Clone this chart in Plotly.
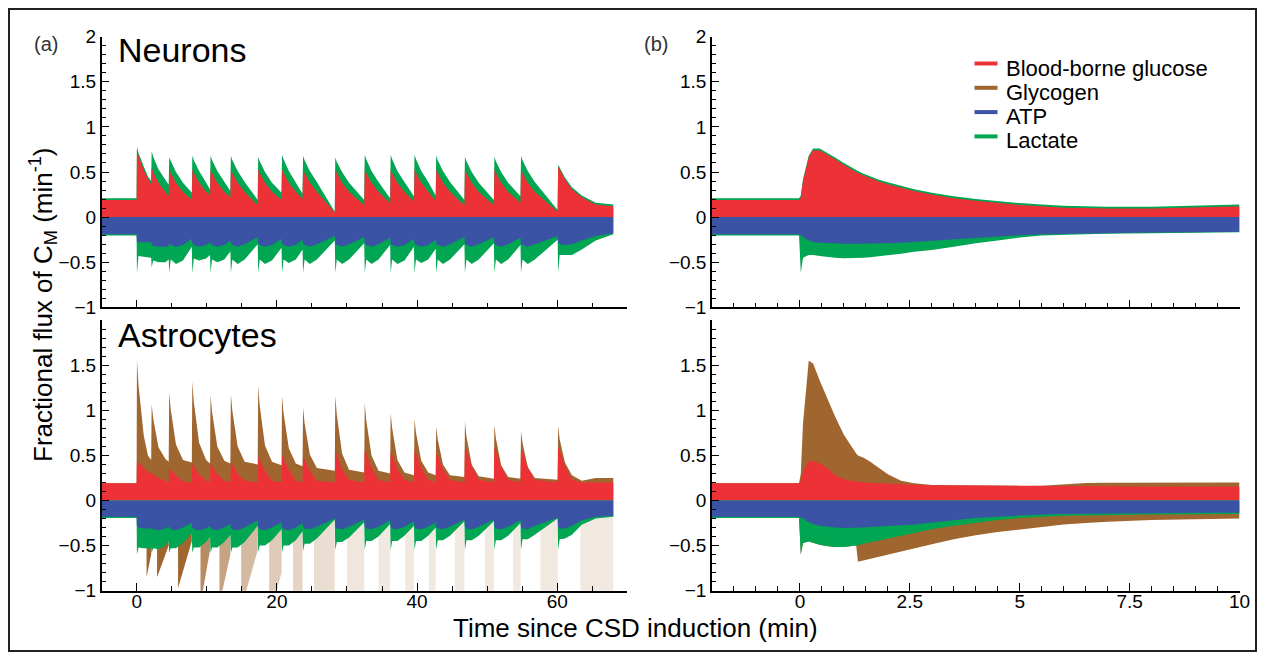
import plotly.graph_objects as go

W, H = 1264, 655
FONT = "Liberation Sans, Arial, Helvetica, sans-serif"

RED = "#ED3237"
BROWN = "#A0662F"
BLUE = "#3A53A4"
GREEN = "#00A651"

# ------------------------------------------------------------------
# DATA
# ------------------------------------------------------------------
# Panel (a): sample times (min); one row per CSD cycle
T_A_ROWS = [
    [-5.0, -0.02],
    [0.03, 0.25, 1.0, 1.6, 2.06],
    [2.13, 2.35, 3.1, 4.1, 4.56],
    [4.63, 4.85, 5.6, 6.6, 7.86],
    [7.93, 8.15, 8.9, 9.9, 10.46],
    [10.53, 10.75, 11.5, 12.5, 13.36],
    [13.43, 13.65, 14.4, 15.4, 17.26],
    [17.33, 17.55, 18.3, 19.3, 20.66],
    [20.73, 20.95, 21.7, 22.7, 23.66],
    [23.73, 23.95, 24.7, 25.7, 28.26],
    [28.33, 28.55, 29.3, 30.3, 32.46],
    [32.53, 32.75, 33.5, 34.5, 36.16],
    [36.23, 36.45, 37.2, 38.2, 39.56],
    [39.63, 39.85, 40.6, 41.6, 42.66],
    [42.73, 42.95, 43.7, 44.7, 46.76],
    [46.83, 47.05, 47.8, 48.8, 50.96],
    [51.03, 51.25, 52.0, 53.0, 54.76],
    [54.83, 55.05, 55.8, 56.8, 60.06],
    [60.13, 60.35, 61.1, 62.1, 63.5, 65.5, 68.0],
]

# Neurons, stacked boundaries (min^-1)
N_GLUCOSE_ROWS = [  # top of blood-borne glucose band
    [0.19, 0.19],
    [0.76, 0.68, 0.52, 0.42, 0.36],
    [0.55, 0.50, 0.38, 0.27, 0.23],
    [0.53, 0.49, 0.38, 0.28, 0.19],
    [0.53, 0.49, 0.38, 0.28, 0.24],
    [0.53, 0.49, 0.38, 0.28, 0.22],
    [0.53, 0.49, 0.38, 0.28, 0.13],
    [0.53, 0.49, 0.38, 0.28, 0.19],
    [0.53, 0.49, 0.38, 0.28, 0.20],
    [0.53, 0.49, 0.38, 0.28, 0.05],
    [0.53, 0.49, 0.38, 0.28, 0.13],
    [0.53, 0.49, 0.38, 0.28, 0.15],
    [0.53, 0.49, 0.38, 0.28, 0.17],
    [0.53, 0.49, 0.38, 0.28, 0.18],
    [0.53, 0.49, 0.38, 0.28, 0.13],
    [0.53, 0.49, 0.38, 0.28, 0.13],
    [0.53, 0.49, 0.38, 0.28, 0.16],
    [0.53, 0.49, 0.38, 0.28, 0.06],
    [0.56, 0.53, 0.42, 0.31, 0.22, 0.14, 0.12],
]
N_LACTATE_IN_ROWS = [  # top of lactate band (glucose + lactate)
    [0.21, 0.21],
    [0.78, 0.71, 0.56, 0.45, 0.40],
    [0.73, 0.67, 0.53, 0.41, 0.36],
    [0.66, 0.62, 0.50, 0.38, 0.27],
    [0.68, 0.63, 0.51, 0.39, 0.31],
    [0.68, 0.63, 0.51, 0.39, 0.29],
    [0.68, 0.63, 0.51, 0.39, 0.19],
    [0.67, 0.62, 0.50, 0.38, 0.27],
    [0.69, 0.64, 0.51, 0.39, 0.26],
    [0.68, 0.63, 0.51, 0.39, 0.06],
    [0.66, 0.61, 0.50, 0.38, 0.19],
    [0.69, 0.64, 0.51, 0.39, 0.21],
    [0.69, 0.64, 0.51, 0.39, 0.23],
    [0.69, 0.64, 0.51, 0.39, 0.24],
    [0.68, 0.63, 0.51, 0.39, 0.19],
    [0.67, 0.62, 0.50, 0.38, 0.19],
    [0.67, 0.62, 0.50, 0.38, 0.23],
    [0.68, 0.63, 0.51, 0.39, 0.08],
    [0.58, 0.55, 0.44, 0.33, 0.24, 0.16, 0.14],
]
N_ATP_ROWS = [  # bottom of ATP band
    [-0.19, -0.19],
    [-0.27, -0.28, -0.28, -0.28, -0.28],
    [-0.30, -0.32, -0.33, -0.33, -0.32],
    [-0.29, -0.31, -0.33, -0.31, -0.24],
    [-0.29, -0.31, -0.33, -0.31, -0.28],
    [-0.29, -0.31, -0.33, -0.31, -0.26],
    [-0.29, -0.31, -0.33, -0.30, -0.22],
    [-0.29, -0.31, -0.33, -0.31, -0.24],
    [-0.29, -0.31, -0.33, -0.31, -0.25],
    [-0.29, -0.31, -0.33, -0.30, -0.21],
    [-0.29, -0.31, -0.33, -0.30, -0.22],
    [-0.29, -0.31, -0.33, -0.30, -0.23],
    [-0.29, -0.31, -0.33, -0.31, -0.24],
    [-0.29, -0.31, -0.33, -0.31, -0.25],
    [-0.29, -0.31, -0.33, -0.30, -0.22],
    [-0.29, -0.31, -0.33, -0.30, -0.22],
    [-0.29, -0.31, -0.33, -0.30, -0.23],
    [-0.29, -0.31, -0.33, -0.30, -0.21],
    [-0.28, -0.30, -0.31, -0.30, -0.26, -0.21, -0.18],
]
N_LACTATE_OUT_ROWS = [  # bottom of lactate (efflux) band
    [-0.205, -0.205],
    [-0.62, -0.43, -0.44, -0.45, -0.45],
    [-0.56, -0.48, -0.50, -0.50, -0.47],
    [-0.62, -0.47, -0.52, -0.48, -0.33],
    [-0.62, -0.46, -0.48, -0.46, -0.42],
    [-0.62, -0.47, -0.50, -0.47, -0.38],
    [-0.62, -0.47, -0.52, -0.47, -0.30],
    [-0.62, -0.47, -0.52, -0.48, -0.34],
    [-0.62, -0.47, -0.51, -0.47, -0.36],
    [-0.62, -0.47, -0.52, -0.47, -0.26],
    [-0.62, -0.47, -0.52, -0.47, -0.29],
    [-0.62, -0.47, -0.52, -0.47, -0.31],
    [-0.62, -0.47, -0.52, -0.48, -0.33],
    [-0.62, -0.47, -0.51, -0.47, -0.35],
    [-0.62, -0.47, -0.52, -0.47, -0.30],
    [-0.62, -0.47, -0.52, -0.47, -0.29],
    [-0.62, -0.47, -0.52, -0.47, -0.31],
    [-0.62, -0.47, -0.52, -0.47, -0.25],
    [-0.62, -0.42, -0.42, -0.42, -0.36, -0.26, -0.19],
]

# Astrocytes, stacked boundaries
A_GLUCOSE_ROWS = [
    [0.19, 0.19],
    [0.44, 0.42, 0.36, 0.32, 0.30],
    [0.31, 0.29, 0.25, 0.21, 0.20],
    [0.37, 0.34, 0.28, 0.21, 0.20],
    [0.41, 0.38, 0.29, 0.22, 0.20],
    [0.41, 0.38, 0.29, 0.22, 0.20],
    [0.43, 0.40, 0.30, 0.22, 0.20],
    [0.48, 0.45, 0.33, 0.22, 0.20],
    [0.50, 0.47, 0.34, 0.22, 0.20],
    [0.49, 0.46, 0.33, 0.22, 0.20],
    [0.54, 0.51, 0.35, 0.23, 0.20],
    [0.56, 0.53, 0.36, 0.23, 0.20],
    [0.54, 0.51, 0.35, 0.23, 0.20],
    [0.56, 0.53, 0.36, 0.23, 0.20],
    [0.54, 0.51, 0.35, 0.23, 0.20],
    [0.59, 0.56, 0.38, 0.23, 0.20],
    [0.59, 0.56, 0.38, 0.23, 0.20],
    [0.57, 0.54, 0.37, 0.23, 0.20],
    [0.59, 0.56, 0.38, 0.23, 0.20, 0.20, 0.20],
]
A_GLYCOGEN_IN_ROWS = [  # top of glycogen band (glucose + glycogen)
    [0.19, 0.19],
    [1.56, 1.28, 0.72, 0.50, 0.45],
    [1.07, 0.91, 0.59, 0.46, 0.43],
    [1.20, 1.01, 0.62, 0.45, 0.42],
    [1.32, 1.09, 0.64, 0.45, 0.41],
    [1.17, 0.98, 0.60, 0.44, 0.41],
    [1.18, 0.99, 0.60, 0.43, 0.40],
    [1.27, 1.05, 0.61, 0.43, 0.39],
    [1.16, 0.97, 0.58, 0.41, 0.38],
    [1.03, 0.86, 0.51, 0.36, 0.33],
    [1.16, 0.95, 0.52, 0.34, 0.31],
    [1.08, 0.89, 0.50, 0.33, 0.30],
    [0.97, 0.80, 0.45, 0.31, 0.28],
    [0.91, 0.75, 0.44, 0.31, 0.28],
    [0.82, 0.68, 0.40, 0.28, 0.26],
    [0.87, 0.71, 0.40, 0.27, 0.24],
    [0.84, 0.69, 0.39, 0.26, 0.24],
    [0.77, 0.64, 0.37, 0.25, 0.23],
    [0.83, 0.68, 0.42, 0.28, 0.22, 0.25, 0.25],
]
A_ATP_ROWS = [
    [-0.18, -0.18],
    [-0.28, -0.30, -0.31, -0.31, -0.31],
    [-0.31, -0.32, -0.33, -0.31, -0.29],
    [-0.30, -0.32, -0.33, -0.30, -0.25],
    [-0.30, -0.32, -0.33, -0.31, -0.28],
    [-0.30, -0.32, -0.33, -0.30, -0.26],
    [-0.30, -0.32, -0.33, -0.30, -0.22],
    [-0.30, -0.32, -0.33, -0.30, -0.24],
    [-0.30, -0.32, -0.33, -0.30, -0.25],
    [-0.29, -0.31, -0.32, -0.29, -0.20],
    [-0.29, -0.31, -0.32, -0.29, -0.21],
    [-0.29, -0.31, -0.32, -0.29, -0.22],
    [-0.29, -0.31, -0.32, -0.29, -0.23],
    [-0.29, -0.31, -0.32, -0.29, -0.24],
    [-0.29, -0.31, -0.32, -0.29, -0.21],
    [-0.29, -0.31, -0.32, -0.29, -0.21],
    [-0.29, -0.31, -0.32, -0.29, -0.22],
    [-0.29, -0.31, -0.32, -0.28, -0.19],
    [-0.29, -0.31, -0.31, -0.28, -0.22, -0.18, -0.17],
]
A_LACTATE_OUT_ROWS = [
    [-0.195, -0.195],
    [-0.60, -0.52, -0.53, -0.53, -0.53],
    [-0.58, -0.53, -0.54, -0.50, -0.45],
    [-0.58, -0.53, -0.53, -0.47, -0.36],
    [-0.58, -0.52, -0.52, -0.46, -0.40],
    [-0.58, -0.52, -0.52, -0.46, -0.38],
    [-0.58, -0.52, -0.52, -0.46, -0.28],
    [-0.57, -0.50, -0.50, -0.44, -0.32],
    [-0.57, -0.50, -0.50, -0.44, -0.34],
    [-0.56, -0.48, -0.48, -0.42, -0.21],
    [-0.55, -0.46, -0.46, -0.41, -0.24],
    [-0.55, -0.45, -0.45, -0.40, -0.26],
    [-0.55, -0.45, -0.45, -0.39, -0.28],
    [-0.55, -0.45, -0.45, -0.39, -0.30],
    [-0.55, -0.44, -0.44, -0.39, -0.23],
    [-0.55, -0.44, -0.44, -0.39, -0.23],
    [-0.55, -0.44, -0.44, -0.39, -0.25],
    [-0.55, -0.43, -0.43, -0.38, -0.20],
    [-0.55, -0.43, -0.42, -0.38, -0.27, -0.20, -0.18],
]
# Astrocytes: glycogen synthesis (negative) episodes late in each cycle
GLY_OUT_T0 = [1.4, 2.9, 5.9, 9.1, 11.8, 14.9, 18.9, 22.3, 25.3, 30.0,
              34.5, 38.3, 41.7, 45.4, 49.7, 53.7, 57.6, 63.3]
GLY_OUT_T1 = [2.06, 4.56, 7.86, 10.46, 13.36, 17.26, 20.66, 23.66, 28.26, 32.46,
              36.16, 39.56, 42.66, 46.76, 50.96, 54.76, 60.06, 68.0]
GLY_OUT_Y0 = [-0.85, -0.85, -0.97, -1.15, -1.15, -1.2, -1.3, -1.4, -1.4, -1.5,
              -1.5, -1.5, -1.5, -1.5, -1.5, -1.5, -1.5, -1.5]
GLY_OUT_Y1 = [-0.60, -0.50, -0.45, -0.55, -0.60, -0.55, -0.80, -1.2, -1.0, -1.5,
              -1.5, -1.5, -1.5, -1.5, -1.5, -1.5, -1.5, -1.5]

# Panel (b): single CSD, sample times (min)
T_B = [-2.0, -0.02, 0.02, 0.07, 0.2, 0.3, 0.45, 0.6, 0.8, 1.0, 1.2, 1.28, 1.32,
       1.45, 1.6, 1.8, 2.0, 2.3, 2.6, 3.0, 3.5, 4.0, 4.5, 5.0, 5.5, 6.0, 6.5,
       7.0, 8.0, 9.0, 10.0]
NB_GLUCOSE = [0.19, 0.19, 0.22, 0.40, 0.66, 0.74, 0.74, 0.70, 0.64, 0.58, 0.52,
              0.50, 0.49, 0.46, 0.43, 0.395, 0.365, 0.325, 0.29, 0.25, 0.21,
              0.18, 0.155, 0.135, 0.12, 0.105, 0.10, 0.095, 0.095, 0.105, 0.12]
NB_LACTATE_IN = [0.21, 0.21, 0.24, 0.42, 0.68, 0.76, 0.76, 0.72, 0.66, 0.60, 0.54,
                 0.52, 0.51, 0.48, 0.45, 0.415, 0.385, 0.345, 0.31, 0.27, 0.23,
                 0.20, 0.175, 0.155, 0.14, 0.125, 0.12, 0.115, 0.115, 0.125, 0.14]
NB_ATP = [-0.19, -0.19, -0.20, -0.22, -0.26, -0.275, -0.285, -0.29, -0.295, -0.295,
          -0.295, -0.295, -0.295, -0.293, -0.292, -0.29, -0.29, -0.285, -0.275,
          -0.265, -0.245, -0.23, -0.215, -0.20, -0.19, -0.185, -0.18, -0.178,
          -0.172, -0.167, -0.163]
NB_LACTATE_OUT = [-0.205, -0.205, -0.62, -0.45, -0.42, -0.42, -0.43, -0.44, -0.45,
                  -0.455, -0.455, -0.455, -0.455, -0.45, -0.445, -0.435, -0.425,
                  -0.405, -0.385, -0.365, -0.33, -0.29, -0.26, -0.225, -0.205,
                  -0.195, -0.19, -0.185, -0.178, -0.172, -0.168]
AB_GLUCOSE = [0.19, 0.19, 0.22, 0.32, 0.43, 0.44, 0.41, 0.37, 0.28, 0.235, 0.215,
              0.21, 0.205, 0.20, 0.195, 0.19, 0.185, 0.18, 0.175, 0.17, 0.168,
              0.165, 0.164, 0.162, 0.161, 0.16, 0.158, 0.157, 0.156, 0.155, 0.155]
AB_GLYCOGEN_IN = [0.19, 0.19, 0.30, 0.85, 1.55, 1.52, 1.33, 1.16, 0.93, 0.73, 0.57,
                  0.52, 0.50, 0.475, 0.43, 0.36, 0.29, 0.22, 0.19, 0.172, 0.168,
                  0.165, 0.164, 0.162, 0.163, 0.18, 0.195, 0.198, 0.20, 0.20, 0.20]
AB_ATP = [-0.18, -0.18, -0.19, -0.20, -0.24, -0.26, -0.28, -0.29, -0.30, -0.305,
          -0.305, -0.305, -0.305, -0.30, -0.295, -0.29, -0.285, -0.275, -0.265,
          -0.245, -0.22, -0.195, -0.18, -0.165, -0.155, -0.15, -0.146, -0.143,
          -0.14, -0.137, -0.135]
AB_LACTATE_OUT = [-0.195, -0.195, -0.60, -0.47, -0.455, -0.47, -0.49, -0.505,
                  -0.515, -0.515, -0.505, -0.50, -0.495, -0.48, -0.465, -0.445,
                  -0.42, -0.39, -0.36, -0.32, -0.28, -0.245, -0.215, -0.195,
                  -0.18, -0.17, -0.165, -0.16, -0.155, -0.152, -0.15]
AB_GLYCOGEN_OUT = [-0.195, -0.195, -0.60, -0.47, -0.455, -0.47, -0.49, -0.505,
                   -0.515, -0.515, -0.505, -0.50, -0.68, -0.665, -0.645, -0.62,
                   -0.595, -0.56, -0.53, -0.485, -0.43, -0.385, -0.35, -0.32,
                   -0.29, -0.265, -0.25, -0.235, -0.215, -0.205, -0.20]

LEGEND_NAMES = ["Blood-borne glucose", "Glycogen", "ATP", "Lactate"]

# ------------------------------------------------------------------
# styles
# ------------------------------------------------------------------
GLY_OUT_ALPHA = [1, 1, 1, 0.75, 0.6, 0.45, 0.35, 0.28, 0.22, 0.16,
                 0.15, 0.15, 0.15, 0.15, 0.15, 0.15, 0.15, 0.15]


def flat(rows):
    return [v for r in rows for v in r]


def px_x(px):
    return px / W


def px_y(py):
    return 1 - py / H


T_A = flat(T_A_ROWS)

fig = go.Figure()


def band(t, y, color, xa, ya):
    fig.add_trace(go.Scatter(
        x=t, y=y, xaxis=xa, yaxis=ya, mode="lines", line=dict(width=0),
        fill="tozeroy", fillcolor=color, hoverinfo="skip", showlegend=False))


# (a) neurons
band(T_A, flat(N_LACTATE_IN_ROWS), GREEN, "x", "y")
band(T_A, flat(N_GLUCOSE_ROWS), RED, "x", "y")
band(T_A, flat(N_LACTATE_OUT_ROWS), GREEN, "x", "y")
band(T_A, flat(N_ATP_ROWS), BLUE, "x", "y")

# (a) astrocytes
for t0, t1, y0, y1, a in zip(GLY_OUT_T0, GLY_OUT_T1, GLY_OUT_Y0, GLY_OUT_Y1,
                             GLY_OUT_ALPHA):
    fig.add_trace(go.Scatter(
        x=[t0, t1, t1, t0], y=[-0.1, -0.1, y1, y0], xaxis="x3", yaxis="y3",
        mode="lines", line=dict(width=0), fill="toself",
        fillcolor=f"rgba(160,102,47,{a})", hoverinfo="skip", showlegend=False))
band(T_A, flat(A_GLYCOGEN_IN_ROWS), BROWN, "x3", "y3")
band(T_A, flat(A_GLUCOSE_ROWS), RED, "x3", "y3")
band(T_A, flat(A_LACTATE_OUT_ROWS), GREEN, "x3", "y3")
band(T_A, flat(A_ATP_ROWS), BLUE, "x3", "y3")

# (b) neurons
band(T_B, NB_LACTATE_IN, GREEN, "x2", "y2")
band(T_B, NB_GLUCOSE, RED, "x2", "y2")
band(T_B, NB_LACTATE_OUT, GREEN, "x2", "y2")
band(T_B, NB_ATP, BLUE, "x2", "y2")

# (b) astrocytes
band(T_B, AB_GLYCOGEN_IN, BROWN, "x4", "y4")
band(T_B, AB_GLUCOSE, RED, "x4", "y4")
band(T_B, AB_GLYCOGEN_OUT, BROWN, "x4", "y4")
band(T_B, AB_LACTATE_OUT, GREEN, "x4", "y4")
band(T_B, AB_ATP, BLUE, "x4", "y4")

# ------------------------------------------------------------------
# axes
# ------------------------------------------------------------------
XA = [px_x(101.7), px_x(627.3)]
XB = [px_x(712.0), px_x(1239.5)]
YT = [px_y(307.3), px_y(36.7)]
YB = [px_y(590.7), px_y(320.1)]

tickfont = dict(family=FONT, size=19, color="black")
common = dict(showline=True, linecolor="black", linewidth=1.6, ticks="inside",
              tickcolor="black", tickwidth=1.3, showgrid=False, zeroline=False,
              tickfont=tickfont, fixedrange=True, automargin=False)

xa = dict(common, range=[-5, 70], tick0=0, dtick=20, ticklen=8,
          ticklabelstandoff=-7,
          minor=dict(ticks="inside", tick0=0, dtick=5, ticklen=5,
                     tickcolor="black", tickwidth=1.1))
xb = dict(common, range=[-2, 10], tick0=0, dtick=2.5, ticklen=8,
          ticklabelstandoff=-7,
          minor=dict(ticks="inside", tick0=0, dtick=0.5, ticklen=5,
                     tickcolor="black", tickwidth=1.1))
ytop = dict(common, range=[-1, 2], tick0=0, dtick=0.5, ticklen=7,
            minor=dict(ticks="inside", tick0=0, dtick=0.1, ticklen=4,
                       tickcolor="black", tickwidth=1.1))
ybot = dict(common, range=[-1, 2], tickmode="array",
            tickvals=[-1, -0.5, 0, 0.5, 1, 1.5],
            ticktext=["\u22121", "\u22120.5", "0", "0.5", "1", "1.5"],
            ticklen=7,
            minor=dict(ticks="inside", tickmode="linear", tick0=0, dtick=0.1,
                       ticklen=4, tickcolor="black", tickwidth=1.1))

fig.update_layout(
    width=W, height=H, margin=dict(l=0, r=0, t=0, b=0, pad=0, autoexpand=False),
    paper_bgcolor="white", plot_bgcolor="white", showlegend=False,
    font=dict(family=FONT, color="black"),
    xaxis=dict(xa, domain=XA, anchor="y", showticklabels=False),
    yaxis=dict(ytop, domain=YT, anchor="x"),
    xaxis2=dict(xb, domain=XB, anchor="y2", showticklabels=False),
    yaxis2=dict(ytop, domain=YT, anchor="x2"),
    xaxis3=dict(xa, domain=XA, anchor="y3"),
    yaxis3=dict(ybot, domain=YB, anchor="x3"),
    xaxis4=dict(xb, domain=XB, anchor="y4"),
    yaxis4=dict(ybot, domain=YB, anchor="x4"),
)

ann = []


def text(s, x, y, size, xanchor="center", yanchor="middle", angle=0, color="black"):
    ann.append(dict(text=s, x=px_x(x), y=px_y(y), xref="paper", yref="paper",
                    showarrow=False, xanchor=xanchor, yanchor=yanchor,
                    textangle=angle, font=dict(family=FONT, size=size, color=color)))


text("(a)", 46, 44, 20, color="#333333")
text("(b)", 656, 44, 20, color="#333333")
text("Neurons", 116, 50, 34, xanchor="left")
text("Astrocytes", 116, 335, 34, xanchor="left")
text("Time since CSD induction (min)", 635, 628, 26)
text("Fractional flux of C<sub>M</sub> (min<sup>-1</sup>)", 43, 305, 26, angle=-90)

shapes = [dict(type="rect", xref="paper", yref="paper", x0=px_x(9), x1=px_x(1256),
               y0=px_y(651), y1=px_y(9), line=dict(color="#222222", width=2))]

LEG_Y = [63.5, 87.8, 112.1, 136.4]
LEG_C = [RED, BROWN, BLUE, GREEN]
for name, yy, c in zip(LEGEND_NAMES, LEG_Y, LEG_C):
    shapes.append(dict(type="line", xref="paper", yref="paper", x0=px_x(974.5),
                       x1=px_x(997.5), y0=px_y(yy), y1=px_y(yy),
                       line=dict(color=c, width=4)))
    text(name, 1003.5, yy + 4.5, 22, xanchor="left")

fig.update_layout(annotations=ann, shapes=shapes)

fig.write_html(
    "out.html",
    post_script="document.body.style.margin='0';document.body.style.overflow='hidden';",
)
